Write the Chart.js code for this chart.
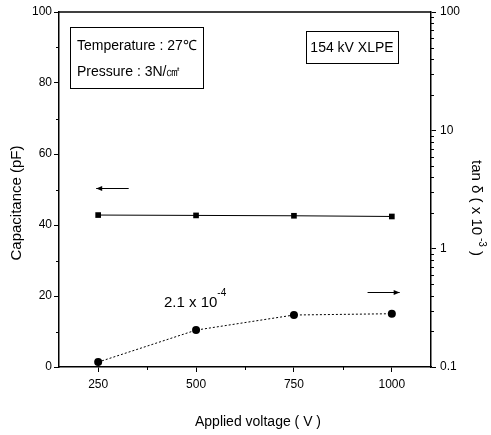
<!DOCTYPE html>
<html>
<head>
<meta charset="utf-8">
<script src="https://cdn.jsdelivr.net/npm/chart.js@4.4.0/dist/chart.umd.min.js"></script>
<style>
  html, body { margin: 0; padding: 0; background: #fff; }
  #wrap { width: 491px; height: 435px; position: relative; }
</style>
</head>
<body>
<div id="wrap"><canvas id="chart"></canvas></div>
<script>
// values
const voltages = [250, 500, 750, 1000];
const capacitance = [42.8, 42.7, 42.6, 42.4];
const tanDelta = [0.11, 0.205, 0.275, 0.282];

const xTicks = [250, 500, 750, 1000];
const xMinorTicks = [375, 625, 875];
const leftTicks = [0, 20, 40, 60, 80, 100];
const leftMinorTicks = [10, 30, 50, 70, 90];
const rightTicks = [0.1, 1, 10, 100];

const FONT = "'Liberation Sans', Arial, sans-serif";

const capPoints = voltages.map((v, i) => ({ x: v, y: capacitance[i] }));
const tanPoints = voltages.map((v, i) => ({ x: v, y: tanDelta[i] }));

function setTicks(list) {
  return (scale) => { scale.ticks = list.map((v) => ({ value: v })); };
}

// minor ticks, top frame line and all the annotation text
const decorations = {
  id: "decorations",
  afterDraw(chart) {
    const ctx = chart.ctx;
    const area = chart.chartArea;
    const xs = chart.scales.x;
    const ys = chart.scales.y;
    const y2 = chart.scales.y2;
    ctx.save();
    ctx.strokeStyle = "#000";
    ctx.fillStyle = "#000";

    // top frame
    ctx.lineWidth = 1.5;
    ctx.beginPath();
    ctx.moveTo(area.left, area.top);
    ctx.lineTo(area.right, area.top);
    ctx.stroke();
    ctx.lineWidth = 1;

    // minor ticks
    ctx.beginPath();
    xMinorTicks.forEach((v) => {
      const px = Math.round(xs.getPixelForValue(v)) + 0.5;
      ctx.moveTo(px, area.bottom);
      ctx.lineTo(px, area.bottom + 3);
    });
    leftMinorTicks.forEach((v) => {
      const py = Math.round(ys.getPixelForValue(v)) + 0.5;
      ctx.moveTo(area.left, py);
      ctx.lineTo(area.left - 3, py);
    });
    for (let d = 0.1; d < 100; d *= 10) {
      for (let k = 2; k <= 9; k++) {
        const py = Math.round(y2.getPixelForValue(d * k)) + 0.5;
        ctx.moveTo(area.right, py);
        ctx.lineTo(area.right + 3, py);
      }
    }
    ctx.stroke();

    // axis titles
    ctx.textBaseline = "middle";
    ctx.textAlign = "center";
    ctx.font = "15px " + FONT;
    ctx.save();
    ctx.translate(17, 203);
    ctx.rotate(-Math.PI / 2);
    ctx.fillText("Capacitance (pF)", 0, 0);
    ctx.restore();

    ctx.font = "14px " + FONT;
    ctx.fillText("Applied voltage ( V )", 258, 422);

    // right title with superscript
    ctx.save();
    ctx.translate(476, 208);
    ctx.rotate(Math.PI / 2);
    const main1 = "tan \u03b4 ( x 10";
    const sup = " -3";
    const main2 = " )";
    ctx.font = "15px " + FONT;
    const w1 = ctx.measureText(main1).width;
    const w3 = ctx.measureText(main2).width;
    ctx.font = "10px " + FONT;
    const w2 = ctx.measureText(sup).width;
    let sx = -(w1 + w2 + w3) / 2;
    ctx.textAlign = "left";
    ctx.font = "15px " + FONT;
    ctx.fillText(main1, sx, 0);
    sx += w1;
    ctx.font = "10px " + FONT;
    ctx.fillText(sup, sx, -6);
    sx += w2;
    ctx.font = "15px " + FONT;
    ctx.fillText(main2, sx, 0);
    ctx.restore();

    // condition box
    ctx.strokeRect(70.5, 27.5, 133, 61);
    ctx.textAlign = "left";
    ctx.font = "14px " + FONT;
    ctx.fillText("Temperature : 27\u2103", 77, 46);
    ctx.fillText("Pressure : 3N/\u33A0", 77, 72);

    // sample box
    ctx.strokeRect(306.5, 31.5, 92, 32);
    ctx.textAlign = "center";
    ctx.fillText("154 kV XLPE", 352, 48);

    // arrows showing which axis each curve uses
    function arrow(x1, x2, y) {
      const dir = Math.sign(x2 - x1);
      ctx.beginPath();
      ctx.moveTo(x1, y + 0.5);
      ctx.lineTo(x2, y + 0.5);
      ctx.stroke();
      ctx.beginPath();
      ctx.moveTo(x2, y + 0.5);
      ctx.lineTo(x2 - dir * 6, y - 2);
      ctx.lineTo(x2 - dir * 6, y + 3);
      ctx.closePath();
      ctx.fill();
    }
    arrow(xs.getPixelForValue(328), xs.getPixelForValue(245), Math.round(ys.getPixelForValue(50.4)));
    arrow(xs.getPixelForValue(938), xs.getPixelForValue(1020), Math.round(ys.getPixelForValue(21.1)));

    // value note
    const nx = xs.getPixelForValue(418);
    const ny = ys.getPixelForValue(17);
    ctx.textAlign = "left";
    ctx.textBaseline = "alphabetic";
    ctx.font = "15px " + FONT;
    const noteMain = "2.1 x 10";
    ctx.fillText(noteMain, nx, ny);
    const nw = ctx.measureText(noteMain).width;
    ctx.font = "10px " + FONT;
    ctx.fillText("-4", nx + nw, ny - 11);

    ctx.restore();
  },
};

new Chart(document.getElementById("chart"), {
  type: "line",
  data: {
    datasets: [
      {
        label: "Capacitance",
        data: capPoints,
        yAxisID: "y",
        borderColor: "#000",
        backgroundColor: "#000",
        borderWidth: 1,
        pointStyle: "rect",
        pointRadius: 4,
        pointBorderWidth: 0,
      },
      {
        label: "tan delta",
        data: tanPoints,
        yAxisID: "y2",
        borderColor: "#000",
        backgroundColor: "#000",
        borderWidth: 1,
        borderDash: [2, 2],
        pointStyle: "circle",
        pointRadius: 4,
        pointBorderWidth: 0,
      },
    ],
  },
  options: {
    responsive: true,
    maintainAspectRatio: false,
    animation: false,
    layout: { padding: { top: 12, left: 0, right: 0, bottom: 0 } },
    plugins: {
      legend: { display: false },
      tooltip: { enabled: false },
    },
    scales: {
      x: {
        type: "linear",
        position: "bottom",
        min: 150,
        max: 1100,
        afterBuildTicks: setTicks(xTicks),
        afterFit: (s) => { s.height = 68; },
        ticks: {
          color: "#000",
          font: { family: FONT, size: 12 },
          padding: 5,
          maxRotation: 0,
          callback: (v) => String(v),
        },
        grid: { drawOnChartArea: false, drawTicks: true, tickLength: 5, color: "#000" },
        border: { display: true, color: "#000", width: 1.5 },
      },
      y: {
        type: "linear",
        position: "left",
        min: 0,
        max: 100,
        afterBuildTicks: setTicks(leftTicks),
        afterFit: (s) => { s.width = 59; },
        ticks: { color: "#000", font: { family: FONT, size: 12 }, padding: 2 },
        grid: { drawOnChartArea: false, drawTicks: true, tickLength: 5, color: "#000" },
        border: { display: true, color: "#000", width: 1.5 },
      },
      y2: {
        type: "logarithmic",
        position: "right",
        min: 0.1,
        max: 100,
        afterBuildTicks: setTicks(rightTicks),
        afterFit: (s) => { s.width = 60; },
        ticks: {
          color: "#000",
          font: { family: FONT, size: 12 },
          padding: 4,
          callback: (v) => String(v),
        },
        grid: { drawOnChartArea: false, drawTicks: true, tickLength: 5, color: "#000" },
        border: { display: true, color: "#000", width: 1.5 },
      },
    },
  },
  plugins: [decorations],
});
</script>
</body>
</html>
